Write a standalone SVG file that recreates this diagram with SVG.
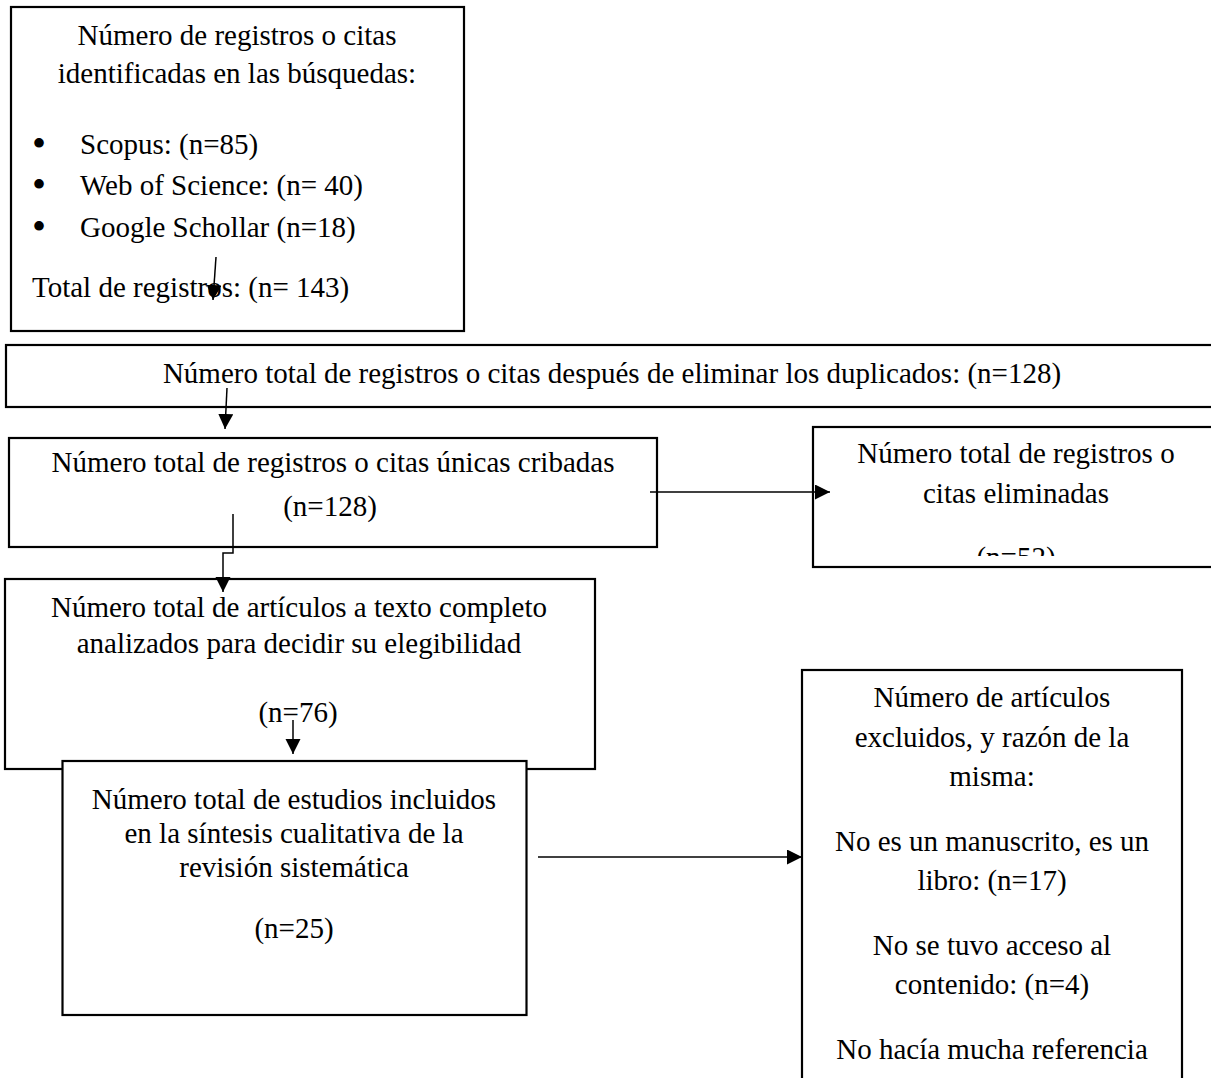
<svg xmlns="http://www.w3.org/2000/svg" width="1211" height="1078" viewBox="0 0 1211 1078">
<style>
.box{fill:#fff;stroke:#000;stroke-width:2.2}
.t{font-family:"Liberation Serif","Times New Roman",serif;font-size:29px;fill:#000}
.c{text-anchor:middle}
.b{font-family:"Liberation Serif","Times New Roman",serif;font-size:40px;fill:#000;text-anchor:middle}
.con{fill:none;stroke:#000;stroke-width:1.5}
</style>
<defs>
<marker id="ah" markerWidth="16" markerHeight="16" refX="15" refY="7.5" orient="auto" markerUnits="userSpaceOnUse"><path d="M0,0 L15,7.5 L0,15 z" fill="#000"/></marker>
<clipPath id="clip4"><rect x="800" y="420" width="420" height="136"/></clipPath>
</defs>
<rect width="1211" height="1078" fill="#fff"/>
<g id="node-identificados">
<rect class="box" x="11" y="7" width="453" height="324"/>
<text class="t c" x="237" y="45">Número de registros o citas</text>
<text class="t c" x="237" y="83">identificadas en las búsquedas:</text>
<text class="b" x="39" y="157">•</text>
<text class="b" x="39" y="198">•</text>
<text class="b" x="39" y="240">•</text>
<text class="t" x="80" y="154">Scopus: (n=85)</text>
<text class="t" x="80" y="195">Web of Science: (n= 40)</text>
<text class="t" x="80" y="237">Google Schollar (n=18)</text>
<text class="t" x="32" y="297">Total de registros: (n= 143)</text>
</g>
<g id="node-sin-duplicados">
<rect class="box" x="6" y="345" width="1210" height="62"/>
<text class="t c" x="612" y="383">Número total de registros o citas después de eliminar los duplicados: (n=128)</text>
</g>
<g id="node-cribadas">
<rect class="box" x="9" y="438" width="648" height="109"/>
<text class="t c" x="333" y="472">Número total de registros o citas únicas cribadas</text>
<text class="t c" x="330" y="516">(n=128)</text>
</g>
<g id="node-eliminadas">
<rect class="box" x="813" y="427" width="410" height="140"/>
<g clip-path="url(#clip4)">
<text class="t c" x="1016" y="463">Número total de registros o</text>
<text class="t c" x="1016" y="503">citas eliminadas</text>
<text class="t c" x="1016" y="567">(n=52)</text>
</g>
</g>
<g id="node-texto-completo">
<rect class="box" x="5" y="579" width="590" height="190"/>
<text class="t c" x="299" y="617">Número total de artículos a texto completo</text>
<text class="t c" x="299" y="653">analizados para decidir su elegibilidad</text>
<text class="t c" x="298" y="722">(n=76)</text>
</g>
<g id="node-incluidos">
<rect class="box" x="62.5" y="761" width="464" height="254"/>
<text class="t c" x="294" y="809">Número total de estudios incluidos</text>
<text class="t c" x="294" y="843">en la síntesis cualitativa de la</text>
<text class="t c" x="294" y="877">revisión sistemática</text>
<text class="t c" x="294" y="938">(n=25)</text>
</g>
<g id="node-excluidos">
<rect class="box" x="802" y="670" width="380" height="430"/>
<text class="t c" x="992" y="707">Número de artículos</text>
<text class="t c" x="992" y="747">excluidos, y razón de la</text>
<text class="t c" x="992" y="786">misma:</text>
<text class="t c" x="992" y="851">No es un manuscrito, es un</text>
<text class="t c" x="992" y="890">libro: (n=17)</text>
<text class="t c" x="992" y="955">No se tuvo acceso al</text>
<text class="t c" x="992" y="994">contenido: (n=4)</text>
<text class="t c" x="992" y="1059">No hacía mucha referencia</text>
</g>
<g id="connectors">
<path class="con" d="M216,257 L213,300" marker-end="url(#ah)"/>
<path class="con" d="M227,388 L225,429" marker-end="url(#ah)"/>
<path class="con" d="M233,514 V553 H223 V592" marker-end="url(#ah)"/>
<path class="con" d="M650,492 H830" marker-end="url(#ah)"/>
<path class="con" d="M293,720 V754" marker-end="url(#ah)"/>
<path class="con" d="M538,857 H802" marker-end="url(#ah)"/>
</g>
</svg>
